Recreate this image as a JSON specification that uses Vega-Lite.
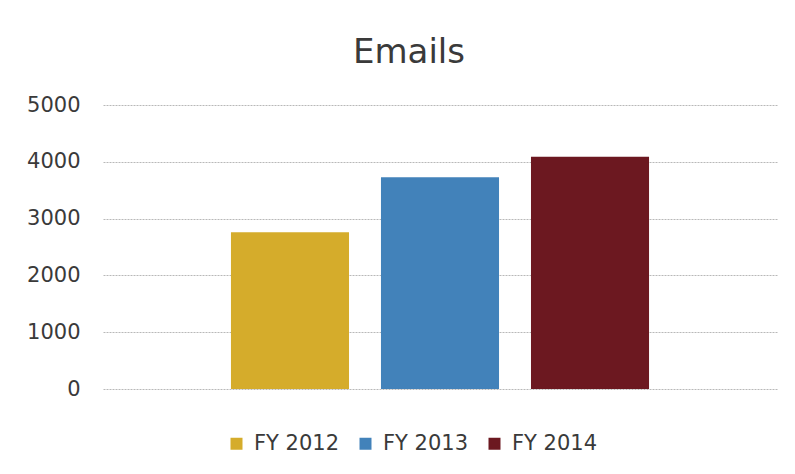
{
  "$schema": "https://vega.github.io/schema/vega-lite/v6.json",
  "autosize": {"type": "none"},
  "width": 674,
  "height": 284,
  "padding": {"left": 103, "top": 105, "right": 18, "bottom": 85},
  "background": "white",
  "data": {"values": [
    {"year": "FY 2012", "emails": 2760},
    {"year": "FY 2013", "emails": 3730},
    {"year": "FY 2014", "emails": 4090}
  ]},
  "title": {
    "text": "Emails",
    "font": "DejaVu Sans",
    "fontSize": 34,
    "fontWeight": "normal",
    "color": "#3a3a3a",
    "anchor": "middle",
    "baseline": "alphabetic",
    "offset": -3,
    "dx": -31
  },
  "mark": {"type": "bar"},
  "encoding": {
    "x": {
      "field": "year",
      "type": "nominal",
      "axis": null,
      "scale": {"paddingInner": 0.213, "paddingOuter": 0.853}
    },
    "y": {
      "field": "emails",
      "type": "quantitative",
      "scale": {"domain": [0, 5000]},
      "axis": {
        "title": null,
        "values": [0, 1000, 2000, 3000, 4000, 5000],
        "format": "d",
        "domain": false,
        "ticks": false,
        "labelPadding": 23,
        "labelFont": "DejaVu Sans",
        "labelFontSize": 21,
        "labelColor": "#3a3a3a",
        "gridColor": "#b8b8b8",
        "gridWidth": 1,
        "gridDash": [2, 1]
      }
    },
    "color": {
      "field": "year",
      "type": "nominal",
      "scale": {"domain": ["FY 2012", "FY 2013", "FY 2014"], "range": ["#D5AC2B", "#4282BA", "#6C1820"]},
      "legend": {
        "title": null,
        "orient": "none",
        "direction": "horizontal",
        "legendX": 123,
        "legendY": 328,
        "padding": 0,
        "symbolType": "square",
        "symbolSize": 144,
        "symbolStrokeWidth": 0,
        "labelFont": "DejaVu Sans",
        "labelFontSize": 21,
        "labelColor": "#3a3a3a",
        "labelOffset": 7,
        "columnPadding": 15
      }
    }
  },
  "config": {"view": {"stroke": null}}
}
